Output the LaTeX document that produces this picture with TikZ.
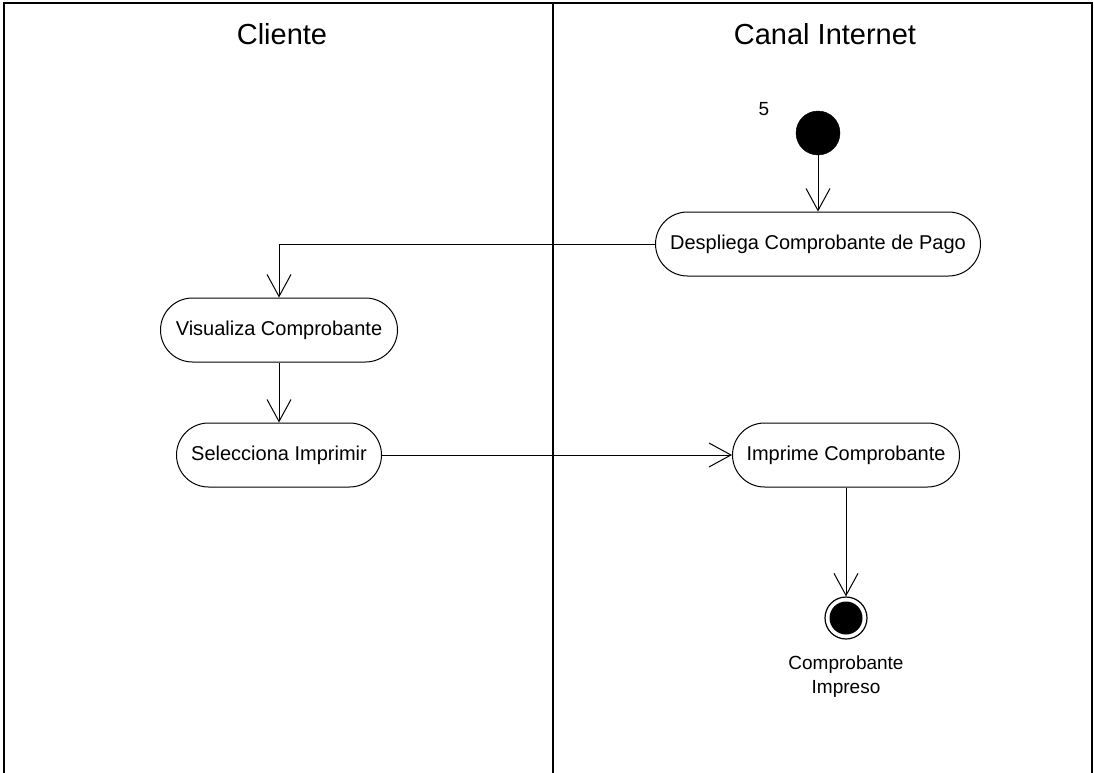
\documentclass[tikz,border=0pt]{standalone}
\usepackage{fontspec}
\setmainfont{Liberation Sans}
\usetikzlibrary{arrows.meta}
\begin{document}
\begin{tikzpicture}[x=1pt,y=-1pt,
  act/.style={draw,line width=1pt,rounded corners=32pt,minimum height=64pt,inner sep=0pt,font=\fontsize{20}{24}\selectfont},
  flow/.style={line width=1pt,-{Straight Barb[length=22pt,width=24pt,line width=1pt]}},
  lane/.style={line width=1.5pt},
  title/.style={font=\fontsize{29}{34}\selectfont}]
\useasboundingbox (0,0) rectangle (1094,773);
\fill[white] (0,0) rectangle (1094,773);
% swimlanes
\draw[lane] (4,773) -- (4,3) -- (1092,3) -- (1092,773);
\draw[lane] (553,3) -- (553,773);
\node[title] (tc) at (282,34) {Cliente};
\node[title] (ti) at (825,34) {Canal Internet};
% nodes
\node[circle,fill=black,draw,minimum size=44pt,inner sep=0pt] (start) at (818,133) {};
\node[font=\fontsize{19}{23}\selectfont] (n5) at (764,109) {5};
\node[act,minimum width=325pt] (desp) at (818,244) {Despliega Comprobante de Pago};
\node[act,minimum width=237pt] (vis) at (279,330) {Visualiza Comprobante};
\node[act,minimum width=205pt] (sel) at (279,455) {Selecciona Imprimir};
\node[act,minimum width=227pt] (imp) at (846,455) {Imprime Comprobante};
\node[circle,draw,line width=1.2pt,minimum size=42pt,inner sep=0pt] (end) at (846,618) {};
\fill (end.center) circle (16.5pt);
\node[font=\fontsize{19}{24}\selectfont,align=center,anchor=north] (lbl) at (846,652) {Comprobante\\Impreso};
% flows
\draw[flow] (start) -- (desp);
\draw[flow] (desp.west) -| (vis.north);
\draw[flow] (vis) -- (sel);
\draw[flow] (sel) -- (imp);
\draw[flow] (imp) -- (end);
\end{tikzpicture}
\end{document}
